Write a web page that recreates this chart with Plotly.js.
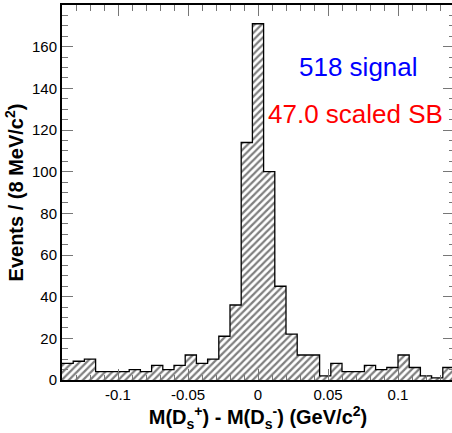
<!DOCTYPE html>
<html>
<head>
<meta charset="utf-8">
<script src="https://cdn.plot.ly/plotly-3.0.1.min.js"></script>
<style>
html, body { margin: 0; padding: 0; overflow: hidden; background: #fff; }
#chart { width: 460px; height: 433px; }
</style>
</head>
<body>
<div id="chart"></div>
<script>
// Histogram definition: 35 bins of 8 MeV from -0.14 to 0.14 GeV/c^2
const binLow = -0.14;
const binWidth = 0.008;
const counts = [8, 9, 10, 4, 4, 4, 5, 4, 7, 5,
                7, 12, 8, 10, 21, 36, 114, 171, 100, 45,
                22, 12, 12, 2, 8, 4, 4, 7, 5, 6,
                12, 6, 2, 1, 6];

const xTickVals = [-0.1, -0.05, 0, 0.05, 0.1];
const xTickText = ['-0.1', '-0.05', '0', '0.05', '0.1'];
const yTickVals = [0, 20, 40, 60, 80, 100, 120, 140, 160];
const yTickText = ['0', '20', '40', '60', '80', '100', '120', '140', '160'];

const labelTexts = ['518 signal', '47.0 scaled SB'];
const labelColors = ['#0000ff', '#ff0000'];

const centers = counts.map((_, i) => binLow + (i + 0.5) * binWidth);
const edges = counts.map((_, i) => binLow + i * binWidth).concat([binLow + counts.length * binWidth]);
const stepY = counts.concat([counts[counts.length - 1]]);

const bars = {
  type: 'bar',
  x: centers,
  y: counts,
  width: binWidth,
  marker: {
    color: '#ffffff',
    line: { width: 0 },
    pattern: { shape: '/', fgcolor: '#000000', bgcolor: '#ffffff', size: 5, solidity: 0.45, fillmode: 'overlay' }
  },
  hoverinfo: 'skip',
  showlegend: false
};

const outline = {
  type: 'scatter',
  mode: 'lines',
  x: edges,
  y: stepY,
  line: { shape: 'hv', color: '#000000', width: 1.3 },
  hoverinfo: 'skip',
  showlegend: false
};

const tickFont = { family: 'Liberation Sans, Arial, sans-serif', size: 15, color: '#000' };
const titleFont = { family: 'Liberation Sans, Arial, sans-serif', size: 20, color: '#000', weight: 'bold' };

const layout = {
  width: 460,
  height: 433,
  margin: { l: 62, r: 6, t: 5, b: 53 },
  paper_bgcolor: '#ffffff',
  plot_bgcolor: '#ffffff',
  bargap: 0,
  showlegend: false,
  xaxis: {
    range: [binLow, binLow + counts.length * binWidth],
    tickmode: 'array',
    tickvals: xTickVals,
    ticktext: xTickText,
    ticks: 'inside',
    ticklen: 11,
    tickwidth: 1,
    tickcolor: '#777',
    minor: { tickmode: 'linear', tick0: 0, dtick: 0.01, ticks: 'inside', ticklen: 5.5, tickwidth: 1, tickcolor: '#777' },
    showline: true,
    linecolor: '#000',
    linewidth: 2,
    mirror: 'ticks',
    showgrid: false,
    zeroline: false,
    tickfont: tickFont,
    automargin: false,
    title: {
      text: 'M(D<sub>s</sub><sup>+</sup>) - M(D<sub>s</sub><sup>-</sup>) (GeV/c<sup>2</sup>)',
      font: titleFont,
      standoff: 8
    }
  },
  yaxis: {
    range: [0, 180],
    tickmode: 'array',
    tickvals: yTickVals,
    ticktext: yTickText,
    ticks: 'inside',
    ticklen: 11,
    tickwidth: 1,
    tickcolor: '#777',
    minor: { tickmode: 'linear', tick0: 0, dtick: 5, ticks: 'inside', ticklen: 5.5, tickwidth: 1, tickcolor: '#777' },
    showline: true,
    linecolor: '#000',
    linewidth: 2,
    mirror: 'ticks',
    showgrid: false,
    zeroline: false,
    tickfont: tickFont,
    automargin: false,
    title: {
      text: 'Events / (8 MeV/c<sup>2</sup>)',
      font: titleFont,
      standoff: 3
    }
  },
  annotations: [
    { xref: 'paper', yref: 'paper', x: 0.756, y: 0.834, xanchor: 'center', yanchor: 'middle',
      text: labelTexts[0], showarrow: false,
      font: { family: 'Liberation Sans, Arial, sans-serif', size: 26, color: labelColors[0] } },
    { xref: 'paper', yref: 'paper', x: 0.749, y: 0.710, xanchor: 'center', yanchor: 'middle',
      text: labelTexts[1], showarrow: false,
      font: { family: 'Liberation Sans, Arial, sans-serif', size: 26, color: labelColors[1] } }
  ]
};

Plotly.newPlot('chart', [bars, outline], layout, { staticPlot: true, displayModeBar: false });
</script>
</body>
</html>
